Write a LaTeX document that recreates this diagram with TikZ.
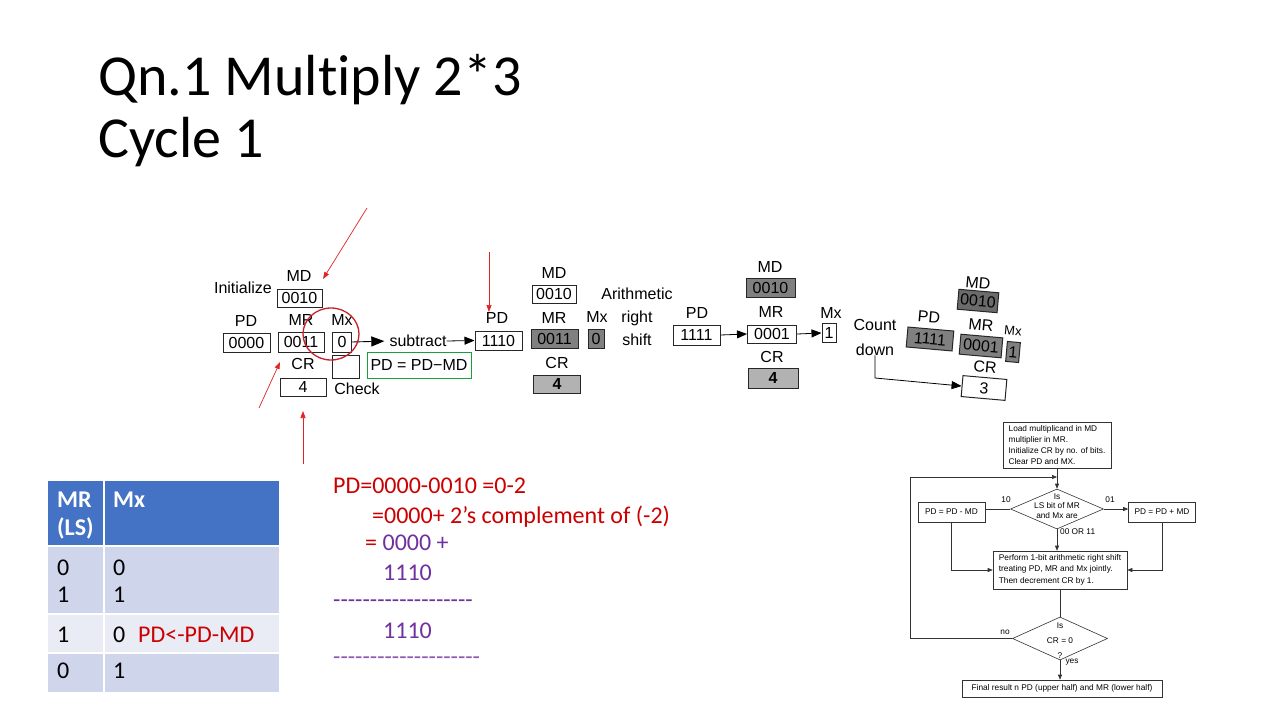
\documentclass[tikz,border=0pt]{standalone}
\usepackage{fontspec}
\setmainfont{Carlito}
\newfontfamily\calf{Carlito}[Ligatures=CommonOff]
\newfontfamily\diagf{Liberation Sans}
\usetikzlibrary{shapes.geometric,arrows.meta}
\definecolor{tblhead}{HTML}{4472C4}
\definecolor{tblrowa}{HTML}{CFD5EA}
\definecolor{tblrowb}{HTML}{E9EBF5}
\definecolor{redtxt}{HTML}{CC0000}
\definecolor{purptxt}{HTML}{7030A0}
\definecolor{greenbox}{HTML}{1E9E3A}
\definecolor{arrred}{HTML}{E02424}
\definecolor{circred}{HTML}{C8202A}
\newcommand\dgf{\diagf\fontsize{16}{19}\selectfont}
\newcommand\fcf{\diagf\fontsize{8.3}{10.7}\selectfont}
\newcommand\tbf{\calf\fontsize{24}{28}\selectfont}
\begin{document}
\begin{tikzpicture}[x=1pt,y=-1pt,
  reg/.style={draw=black!85, line width=1pt, inner sep=0pt, font=\dgf, minimum height=19pt},
  lbl/.style={inner sep=0pt, font=\dgf},
  shadeA/.style={fill=black!50},
  shadeB/.style={fill=black!30},
  bigarr/.style={-{Triangle[length=13pt,width=10pt]}, line width=0.9pt},
  midarr/.style={-{Triangle[length=10pt,width=8pt]}, line width=0.8pt},
  redarr/.style={draw=arrred, line width=0.7pt, -{Triangle[length=7pt,width=5pt]}},
  fc/.style={draw=black!80, line width=0.6pt, inner sep=2pt, font=\fcf},
  fclbl/.style={inner sep=0pt, font=\fcf},
  fcline/.style={draw=black!80, line width=0.6pt},
  fcarr/.style={draw=black!80, line width=0.6pt, -{Triangle[length=5pt,width=4pt]}},
  tbl/.style={inner sep=0pt, anchor=base west, font=\tbf},
  calc/.style={inner sep=0pt, anchor=base west, font=\tbf}
]
\useasboundingbox (0,0) rectangle (1280,720);
\fill[white] (0,0) rectangle (1280,720);

% Title
\node[anchor=base west, inner sep=0pt, font=\calf\fontsize{58}{62}\selectfont] (t1) at (98,95) {Qn.1 Multiply 2*3};
\node[anchor=base west, inner sep=0pt, font=\calf\fontsize{58}{62}\selectfont] (t2) at (98,157) {Cycle 1};

% ---- Column 1
\node[lbl] (init) at (243,288) {Initialize};
\node[lbl] (mdl1) at (299,276) {MD};
\node[reg, minimum width=45pt, minimum height=18pt] (md1) at (299.5,298) {0010};
\node[lbl] (pdl1) at (246,321) {PD};
\node[reg, minimum width=47pt] (pd1) at (246.5,342.5) {0000};
\node[lbl] (mrl1) at (301,320) {MR};
\node[reg, minimum width=46pt, minimum height=20pt] (mr1) at (301,342) {0011};
\node[lbl] (mxl1) at (342,320) {Mx};
\node[reg, minimum width=19pt, minimum height=20pt] (mx1) at (342,342) {0};
\node[lbl] (crl1) at (303,364) {CR};
\node[reg, minimum width=46pt, minimum height=18pt] (cr1) at (303,387) {4};
\node[reg, minimum width=27pt, minimum height=23pt] (chk) at (345.5,366.5) {};
\node[lbl] (chkl) at (357,389) {Check};
\node[lbl] (sub) at (418,341) {subtract};
\draw[bigarr, shorten >=5pt] (mx1.east) -- (sub.west);
\node[lbl] (pdl2) at (497,318) {PD};
\node[reg, minimum width=47pt] (pd2) at (498.5,340.5) {1110};
\draw[midarr] (sub.east) -- (pd2.west);
\node[draw=greenbox, line width=0.9pt, minimum width=104pt, minimum height=26pt, inner sep=0pt, font=\dgf] (eq) at (419,365) {PD = PD−MD};

% ---- Column 2
\node[lbl] (mdl2) at (554,273) {MD};
\node[reg, minimum width=44pt, minimum height=18pt] (md2) at (554,294) {0010};
\node[lbl] (mrl2) at (554,318) {MR};
\node[reg, shadeA, minimum width=47pt] (mr2) at (554.5,339) {0011};
\node[lbl] (mxl2) at (597,317) {Mx};
\node[reg, shadeA, minimum width=16pt] (mx2) at (596,339) {0};
\node[lbl] (crl2) at (557,363) {CR};
\node[reg, shadeB, minimum width=47pt, minimum height=18pt] (cr2) at (557,384) {\textbf{4}};
\node[inner sep=0pt, align=center, font=\diagf\fontsize{16}{23}\selectfont] (ars) at (637,317) {Arithmetic\\right\\shift};

% ---- Column 3
\node[lbl] (pdl3) at (697,313) {PD};
\node[reg, minimum width=47pt, minimum height=20pt] (pd3) at (696.5,335) {1111};
\node[lbl] (mdl3) at (770,267) {MD};
\node[reg, shadeA, minimum width=49pt] (md3) at (770.5,287.5) {0010};
\node[lbl] (mrl3) at (771,312) {MR};
\node[reg, minimum width=49pt, minimum height=18pt] (mr3) at (772,334) {0001};
\draw[midarr] (pd3.east) -- (mr3.west);
\node[lbl] (mxl3) at (831,313) {Mx};
\node[reg, minimum width=14pt] (mx3) at (829,333) {1};
\draw[midarr] (mr3.east) -- (mx3.west);
\node[lbl] (crl3) at (772,357) {CR};
\node[reg, shadeB, minimum width=50pt, minimum height=20pt] (cr3) at (773,378) {\textbf{4}};
\node[inner sep=0pt, align=center, font=\diagf\fontsize{16}{25}\selectfont] (cnt) at (875,337) {Count\\down};

% ---- Column 4 (tilted)
\node[lbl, rotate=-5] (pdl4) at (929,317) {PD};
\node[reg, shadeA, rotate=-5, minimum width=46pt, minimum height=20pt] (pd4) at (930,339) {1111};
\node[lbl, rotate=-5] (mdl4) at (978,283) {MD};
\node[reg, fill=black!58, rotate=-5, minimum width=40pt, minimum height=20pt] (md4) at (978,301) {0010};
\node[lbl, rotate=-5] (mrl4) at (981,325) {MR};
\node[reg, shadeA, rotate=-5, minimum width=42pt, minimum height=20pt] (mr4) at (981,346) {0001};
\node[inner sep=0pt, rotate=-5, font=\diagf\fontsize{13}{15}\selectfont] (mxl4) at (1013,331) {Mx};
\node[reg, shadeA, rotate=-5, minimum width=13pt, minimum height=20pt] (mx4) at (1013,352) {1};
\node[lbl, rotate=-5] (crl4) at (985,367) {CR};
\node[reg, rotate=-5, minimum width=44pt, minimum height=21pt] (cr4) at (984,388) {3};
\coordinate (cdbend) at (875,378);
\draw[midarr] (cnt.south) -- (cdbend) -- (cr4.west);

% ---- Red marks
\node[ellipse, draw=circred, line width=1.3pt, minimum width=56pt, minimum height=52pt, inner sep=0pt] (circ) at (331,334) {};
\coordinate (ra1s) at (367,208); \coordinate (ra1t) at (323,279);
\draw[redarr] (ra1s) -- (ra1t);
\coordinate (ra2s) at (489,252); \coordinate (ra2t) at (489,312);
\draw[redarr] (ra2s) -- (ra2t);
\coordinate (ra3s) at (259,408); \coordinate (ra3t) at (280,362);
\draw[redarr] (ra3s) -- (ra3t);
\coordinate (ra4s) at (303,464); \coordinate (ra4t) at (303,411);
\draw[redarr] (ra4s) -- (ra4t);

% ---- Table
\fill[tblhead] (48,481) rectangle (103,545);
\fill[tblhead] (105,481) rectangle (279,545);
\fill[tblrowa] (48,547) rectangle (103,613);
\fill[tblrowa] (105,547) rectangle (279,613);
\fill[tblrowb] (48,615) rectangle (103,652);
\fill[tblrowb] (105,615) rectangle (279,652);
\fill[tblrowa] (48,654) rectangle (103,692);
\fill[tblrowa] (105,654) rectangle (279,692);
\node[tbl, text=white, font=\tbf\bfseries] (h1a) at (57,507) {MR};
\node[tbl, text=white, font=\tbf\bfseries] (h1b) at (57,535) {(LS)};
\node[tbl, text=white, font=\tbf\bfseries] (h2) at (113,507) {Mx};
\node[tbl] (r1a) at (57,575) {0};
\node[tbl] (r1b) at (57,602) {1};
\node[tbl] (r1c) at (113,575) {0};
\node[tbl] (r1d) at (113,602) {1};
\node[tbl] (r2a) at (57,642) {1};
\node[tbl] (r2b) at (113,642) {0};
\node[tbl, text=redtxt] (r2c) at (138,642) {PD<-PD-MD};
\node[tbl] (r3a) at (57,678) {0};
\node[tbl] (r3b) at (113,678) {1};

% ---- Calculation
\node[calc, text=redtxt] (c1) at (333,493) {PD=0000-0010 =0-2};
\node[calc, text=redtxt] (c2) at (372,523) {=0000+ 2’s complement of (-2)};
\node[calc, text=purptxt] (c3) at (365,550) {\textcolor{redtxt}{=} 0000 +};
\node[calc, text=purptxt] (c4) at (383,580) {1110};
\node[calc, text=purptxt] (c5) at (333,607) {-------------------};
\node[calc, text=purptxt] (c6) at (383,638) {1110};
\node[calc, text=purptxt!80!white] (c7) at (333,664) {--------------------};

% ---- Flowchart
\node[fc, align=left, minimum width=108pt, minimum height=46pt] (f1) at (1057,445) {Load multiplicand in MD\\multiplier in MR.\\Initialize CR by no. of bits.\\Clear PD and MX.};
\node[diamond, draw=black!80, line width=0.6pt, minimum width=93pt, minimum height=40pt, inner sep=0pt, font=\diagf\fontsize{8.3}{9.7}\selectfont] (d1) at (1057,509) {\smash{\makebox[0pt]{\begin{tabular}{@{}c@{}}Is\\LS bit of MR\\and Mx are\end{tabular}}}};
\node[fc, minimum width=67pt, minimum height=20pt, inner sep=0pt] (bl) at (951.5,512) {PD = PD - MD};
\node[fc, minimum width=67pt, minimum height=20pt, inner sep=0pt] (br) at (1162,512) {PD = PD + MD};
\node[fclbl] (l10) at (1006,500) {10};
\node[fclbl] (l01) at (1110,500) {01};
\node[fclbl, anchor=west] (l0011) at (1060,532) {00 OR 11};
\node[fc, align=left, minimum width=134pt, minimum height=38pt] (fp) at (1060,570) {Perform 1-bit arithmetic right shift\\treating PD, MR and Mx jointly.\\[1.5pt]Then decrement CR by 1.};
\node[diamond, draw=black!80, line width=0.6pt, minimum width=95pt, minimum height=43pt, inner sep=0pt, font=\diagf\fontsize{8.3}{15}\selectfont] (d2) at (1060,638.5) {\smash{\makebox[0pt]{\raisebox{-4pt}{\begin{tabular}{@{}c@{}}Is\\CR = 0\\?\end{tabular}}}}};
\node[fclbl] (lno) at (1005,632) {no};
\node[fclbl] (lyes) at (1072,662) {yes};
\node[fc, minimum width=200pt, minimum height=17pt, inner sep=0pt] (ff) at (1062,688.5) {Final result n PD (upper half) and MR (lower half)};
\coordinate (lpx) at (910,477);
\coordinate (lpin) at (1057,477);
\draw[fcarr] (f1.south) -- (d1.north);
\draw[fcline] (d1.west) -- (d1.west -| bl.east);
\draw[fcarr] (d1.east) -- (d1.east -| br.west);
\draw[fcarr] (d1.south) -- (d1.south |- fp.north);
\draw[fcarr] (bl.south) |- (fp.west);
\draw[fcarr] (br.south) |- (fp.east);
\draw[fcline] (fp.south) -- (fp.south |- d2.north);
\draw[fcarr] (d2.west) -| (lpx) -- (lpin);
\draw[fcarr] (d2.south) -- (d2.south |- ff.north);
\end{tikzpicture}
\end{document}
